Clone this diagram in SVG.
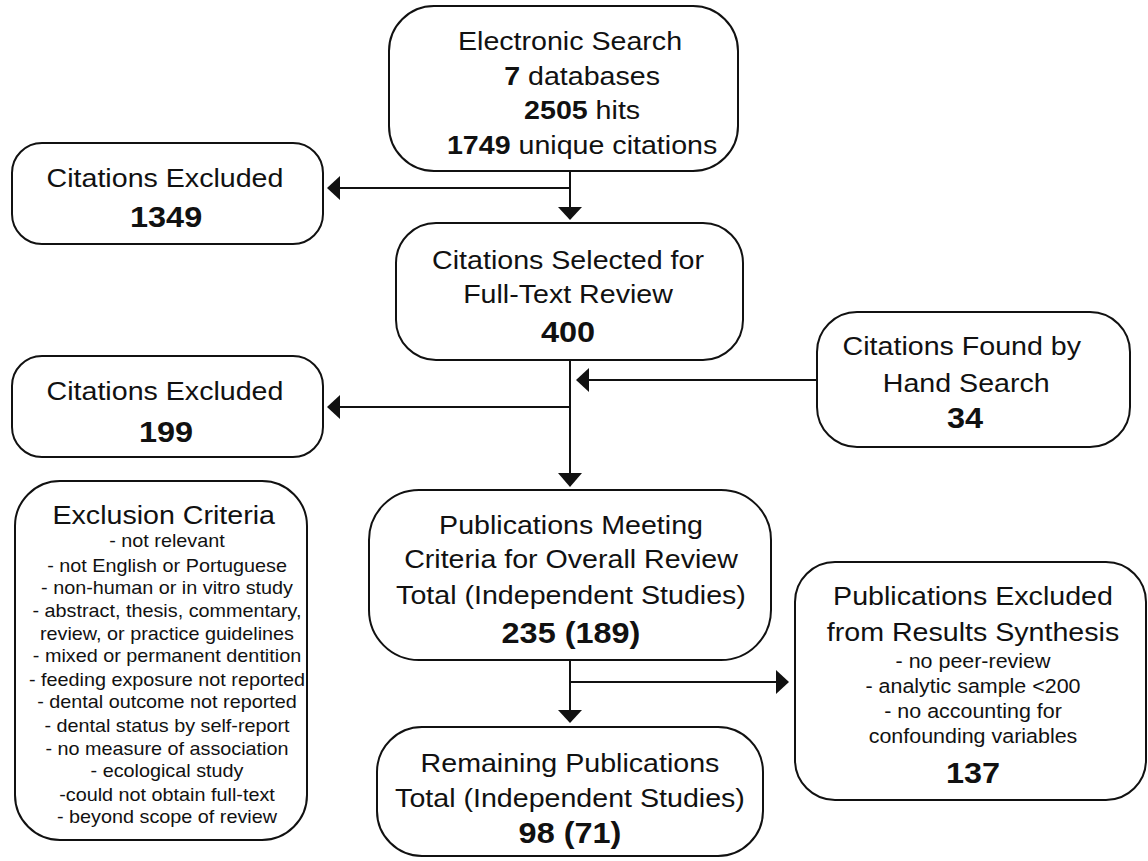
<svg xmlns="http://www.w3.org/2000/svg" width="1148" height="861" viewBox="0 0 1148 861">
<style>
.box{fill:#fff;stroke:#111;stroke-width:2}
.ln{fill:none;stroke:#111;stroke-width:2}
.ah{fill:#111}
text{font-family:"Liberation Sans",Arial,sans-serif;fill:#111;text-anchor:middle}
.t{font-size:26px}
.b{font-size:29.5px;font-weight:bold}
.s{font-size:18px}
.m{font-size:19.5px}
</style>
<rect width="1148" height="861" fill="#fff"/>
<g id="connectors">
<path class="ln" d="M570 171V208M570 188H339"/>
<path class="ah" d="M558 207H582L570 220Z"/>
<path class="ah" d="M340 176V200L327 188Z"/>
<path class="ln" d="M570 360V474M570 407H339M817 380H588"/>
<path class="ah" d="M558 473H582L570 487Z"/>
<path class="ah" d="M340 395V419L327 407Z"/>
<path class="ah" d="M589 368V392L576 380Z"/>
<path class="ln" d="M570 660V711M570 682H777"/>
<path class="ah" d="M558 710H582L570 723Z"/>
<path class="ah" d="M776 670V694L789 682Z"/>
</g>
<g id="electronic-search">
<rect class="box" x="389" y="6" width="349" height="165" rx="45"/>
<g transform="translate(570 0) scale(1.1 1)">
<text class="t" x="0" y="50">Electronic Search</text>
<text class="t" x="11" y="85"><tspan font-weight="bold">7</tspan> databases</text>
<text class="t" x="11" y="119"><tspan font-weight="bold">2505</tspan> hits</text>
<text class="t" x="11" y="154"><tspan font-weight="bold">1749</tspan> unique citations</text>
</g>
</g>
<g id="excluded-1349">
<rect class="box" x="12" y="143" width="311" height="101" rx="30"/>
<g transform="translate(165 0) scale(1.1 1)">
<text class="t" x="0" y="187">Citations Excluded</text>
<text class="b" x="1" y="227">1349</text>
</g>
</g>
<g id="full-text-review">
<rect class="box" x="396" y="223" width="347" height="137" rx="40"/>
<g transform="translate(568 0) scale(1.1 1)">
<text class="t" x="0" y="269">Citations Selected for</text>
<text class="t" x="0" y="303">Full-Text Review</text>
<text class="b" x="0" y="342">400</text>
</g>
</g>
<g id="hand-search">
<rect class="box" x="817" y="312" width="313" height="135" rx="40"/>
<g transform="translate(964 0) scale(1.1 1)">
<text class="t" x="-2" y="355">Citations Found by</text>
<text class="t" x="2" y="392">Hand Search</text>
<text class="b" x="1" y="428">34</text>
</g>
</g>
<g id="excluded-199">
<rect class="box" x="12" y="356" width="311" height="101" rx="30"/>
<g transform="translate(165 0) scale(1.1 1)">
<text class="t" x="0" y="400">Citations Excluded</text>
<text class="b" x="1" y="442">199</text>
</g>
</g>
<g id="exclusion-criteria">
<rect class="box" x="15" y="481" width="292" height="359" rx="45"/>
<g transform="translate(167 0) scale(1.1 1)">
<text class="t" x="-3" y="524">Exclusion Criteria</text>
<text class="s" x="0" y="547">- not relevant</text>
<text class="s" x="0" y="572">- not English or Portuguese</text>
<text class="s" x="0" y="594">- non-human or in vitro study</text>
<text class="s" x="0" y="617">- abstract, thesis, commentary,</text>
<text class="s" x="0" y="640">review, or practice guidelines</text>
<text class="s" x="0" y="662">- mixed or permanent dentition</text>
<text class="s" x="0" y="686">- feeding exposure not reported</text>
<text class="s" x="0" y="708">- dental outcome not reported</text>
<text class="s" x="0" y="732">- dental status by self-report</text>
<text class="s" x="0" y="755">- no measure of association</text>
<text class="s" x="0" y="777">- ecological study</text>
<text class="s" x="0" y="801">-could not obtain full-text</text>
<text class="s" x="0" y="823">- beyond scope of review</text>
</g>
</g>
<g id="overall-review">
<rect class="box" x="369" y="490" width="402" height="170" rx="50"/>
<g transform="translate(571 0) scale(1.1 1)">
<text class="t" x="0" y="534">Publications Meeting</text>
<text class="t" x="0" y="568">Criteria for Overall Review</text>
<text class="t" x="0" y="604">Total (Independent Studies)</text>
<text class="b" x="0" y="643">235 (189)</text>
</g>
</g>
<g id="excluded-synthesis">
<rect class="box" x="795" y="562" width="351" height="238" rx="40"/>
<g transform="translate(973 0) scale(1.1 1)">
<text class="t" x="0" y="605">Publications Excluded</text>
<text class="t" x="0" y="641">from Results Synthesis</text>
<text class="m" x="0" y="668">- no peer-review</text>
<text class="m" x="0" y="693">- analytic sample &lt;200</text>
<text class="m" x="0" y="718">- no accounting for</text>
<text class="m" x="0" y="743">confounding variables</text>
<text class="b" x="0" y="783">137</text>
</g>
</g>
<g id="remaining">
<rect class="box" x="377" y="727" width="386" height="129" rx="45"/>
<g transform="translate(570 0) scale(1.1 1)">
<text class="t" x="0" y="772">Remaining Publications</text>
<text class="t" x="0" y="807">Total (Independent Studies)</text>
<text class="b" x="0" y="843">98 (71)</text>
</g>
</g>
</svg>
